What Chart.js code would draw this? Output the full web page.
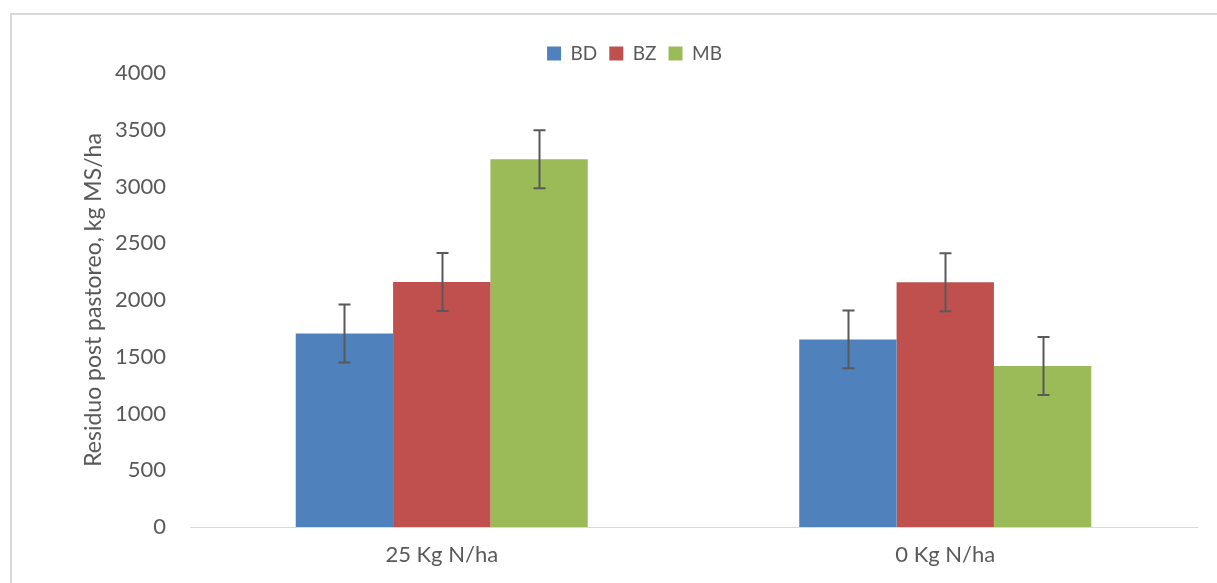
<!DOCTYPE html>
<html lang="es">
<head>
<meta charset="UTF-8">
<title>Residuo post pastoreo</title>
<style>
  html, body { margin: 0; padding: 0; background: #fff; overflow: hidden; }
  #frame { position: absolute; left: 10px; top: 13px; width: 1300px; height: 700px;
           border-left: 2px solid #d9d9d9; border-top: 2px solid #d9d9d9; }
  #wrap { position: absolute; left: 0; top: 0; width: 1217px; height: 583px; }
</style>
</head>
<body>
<div id="frame"></div>
<div id="wrap"><canvas id="chart"></canvas></div>

<script src="https://cdn.jsdelivr.net/npm/chart.js"></script>
<script>
const categories = ['25 Kg N/ha', '0 Kg N/ha'];
const seriesNames = ['BD', 'BZ', 'MB'];
const bdValues = [1705, 1653];
const bzValues = [2158, 2156];
const mbValues = [3240, 1418];
const bdErrors = [255, 255];
const bzErrors = [255, 255];
const mbErrors = [255, 255];
const yTicks = [0, 500, 1000, 1500, 2000, 2500, 3000, 3500, 4000];

const colors = ['#4F81BD', '#C0504D', '#9BBB59'];
const txt = '#595959';
const fontFamily = 'Lato, "Open Sans", sans-serif';

// error bars drawn on top of each bar, using the chart scales
const errorBars = {
  id: 'errorBars',
  afterDatasetsDraw(chart) {
    const ctx = chart.ctx;
    const y = chart.scales.y;
    ctx.save();
    ctx.strokeStyle = '#595959';
    ctx.lineWidth = 2;
    chart.data.datasets.forEach((ds, i) => {
      const meta = chart.getDatasetMeta(i);
      meta.data.forEach((bar, j) => {
        const v = ds.data[j], e = ds.errors[j];
        const top = y.getPixelForValue(v + e);
        const bot = y.getPixelForValue(v - e);
        const x = Math.round(bar.x) + 0.5;
        ctx.beginPath();
        ctx.moveTo(x, top); ctx.lineTo(x, bot);
        ctx.moveTo(x - 6, top); ctx.lineTo(x + 6, top);
        ctx.moveTo(x - 6, bot); ctx.lineTo(x + 6, bot);
        ctx.stroke();
      });
    });
    ctx.restore();
  }
};

const values = [bdValues, bzValues, mbValues];
const errors = [bdErrors, bzErrors, mbErrors];

new Chart(document.getElementById('chart'), {
  type: 'bar',
  data: {
    labels: categories,
    datasets: seriesNames.map((name, i) => ({
      label: name,
      data: values[i],
      errors: errors[i],
      backgroundColor: colors[i],
      borderWidth: 0,
      barPercentage: 1,
      categoryPercentage: 0.58
    }))
  },
  options: {
    responsive: true,
    maintainAspectRatio: false,
    animation: false,
    layout: { padding: { left: 72, right: 20, top: 32, bottom: 0 } },
    plugins: {
      legend: {
        position: 'top',
        labels: {
          color: txt,
          font: { family: fontFamily, size: 19 },
          boxWidth: 14,
          boxHeight: 14,
          padding: 12
        }
      },
      tooltip: { enabled: false }
    },
    scales: {
      x: {
        grid: { display: false, drawTicks: false },
        border: { display: true, color: '#d9d9d9', width: 1 },
        ticks: { color: txt, font: { family: fontFamily, size: 22 }, padding: 15 },
        afterFit(s) { s.height = 56; }
      },
      y: {
        min: 0,
        max: 4000,
        afterBuildTicks(s) { s.ticks = yTicks.map(v => ({ value: v })); },
        grid: { display: false, drawTicks: false },
        border: { display: false },
        ticks: {
          color: txt,
          font: { family: fontFamily, size: 22 },
          padding: 24,
          callback: v => String(v)
        },
        title: {
          display: true,
          text: 'Residuo post pastoreo, kg MS/ha',
          color: txt,
          font: { family: fontFamily, size: 23 },
          padding: { top: 8, bottom: 0 }
        },
        afterFit(s) { s.width = 118; }
      }
    }
  },
  plugins: [errorBars]
});
</script>
</body>
</html>
